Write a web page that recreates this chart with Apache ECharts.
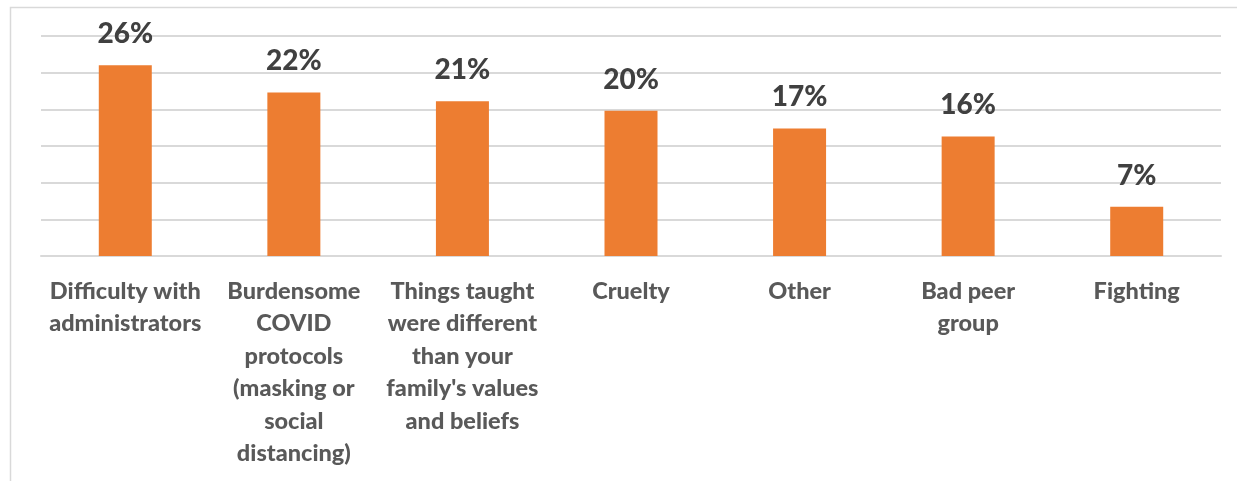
<!DOCTYPE html>
<html>
<head>
<meta charset="utf-8">
<script src="https://cdn.jsdelivr.net/npm/echarts@6/dist/echarts.min.js"></script>
<style>
  html, body { margin: 0; padding: 0; background: #fff; }
  #chart { width: 1237px; height: 481px; }
</style>
</head>
<body>
<div id="chart"></div>
<script>
// categories, wrapped the way the source shows them
const categories = [
  'Difficulty with\nadministrators',
  'Burdensome\nCOVID\nprotocols\n(masking or\nsocial\ndistancing)',
  'Things taught\nwere different\nthan your\nfamily\'s values\nand beliefs',
  'Cruelty',
  'Other',
  'Bad peer\ngroup',
  'Fighting'
];
// percent values
const values = [26.0, 22.3, 21.1, 19.8, 17.4, 16.3, 6.7];
const yTicks = [0, 5, 10, 15, 20, 25, 30];

const chart = echarts.init(document.getElementById('chart'));

const option = {
  animation: false,
  backgroundColor: '#ffffff',
  graphic: [{
    type: 'rect',
    shape: { x: 10.5, y: 7.5, width: 1260, height: 500 },
    style: { fill: 'none', stroke: '#d9d9d9', lineWidth: 1.5 },
    silent: true
  }],
  grid: { left: 41, right: 16, top: 36, bottom: 225 },
  xAxis: {
    type: 'category',
    data: categories,
    axisTick: { show: false },
    axisLine: { lineStyle: { color: '#d9d9d9', width: 2 } },
    axisLabel: {
      interval: 0,
      margin: 19,
      color: '#595959',
      fontFamily: 'Lato',
      fontWeight: 900,
      fontSize: 23.5,
      lineHeight: 32.5
    }
  },
  yAxis: {
    type: 'value',
    min: yTicks[0],
    max: yTicks[yTicks.length - 1],
    interval: 5,
    axisLabel: { show: false },
    axisLine: { show: false },
    axisTick: { show: false },
    splitLine: { lineStyle: { color: '#d9d9d9', width: 2 } }
  },
  series: [{
    type: 'bar',
    data: values,
    barWidth: 53,
    itemStyle: { color: '#ed7d31' },
    label: {
      show: true,
      position: 'top',
      distance: 17,
      formatter: p => Math.round(p.value) + '%',
      color: '#404040',
      fontFamily: 'Lato',
      fontWeight: 900,
      fontSize: 28
    }
  }]
};

option && chart.setOption(option);
</script>
</body>
</html>
